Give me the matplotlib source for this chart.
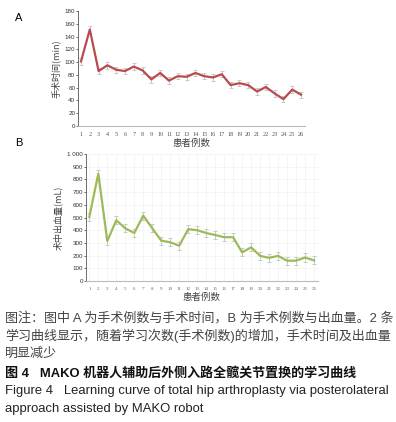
import matplotlib
matplotlib.use("Agg")
import matplotlib.pyplot as plt
import numpy as np

plt.rcParams['font.family'] = ['Liberation Sans', 'Noto Sans CJK SC', 'DejaVu Sans']

cases = list(range(1, 27))
op_time = [101, 151, 86, 95, 88, 86, 93, 87, 73, 83, 71, 78, 77, 83, 78, 76, 81,
           64, 67, 64, 54, 61, 51, 42, 57, 49]
op_time_err = [5] * 26
blood_loss = [505, 845, 315, 478, 415, 378, 515, 415, 318, 305, 278, 408, 400,
              378, 362, 345, 345, 225, 265, 198, 182, 198, 160, 160, 185, 162]
blood_err = [32] * 26
yticks_a = list(range(0, 181, 20))
yticks_b = list(range(0, 1001, 100))
yticklabels_b = [str(v) if v < 1000 else "1 000" for v in yticks_b]

W, H = 396, 422
fig = plt.figure(figsize=(W / 100, H / 100), dpi=100)

def px_axes(l, r, t, b):
    return fig.add_axes([l / W, 1 - b / H, (r - l) / W, (b - t) / H])

cjk = ['Noto Sans CJK SC', 'DejaVu Sans']

# Panel A
axA = px_axes(78, 305, 11, 126)
axA.errorbar(cases, op_time, yerr=op_time_err, color='#b84a50', lw=1.6,
             ecolor='#c8c8c8', elinewidth=0.7, capsize=1.5, capthick=0.7, zorder=3)
axA.set_xlim(0.66, 26.45)
axA.set_ylim(0, 180)
axA.set_yticks(yticks_a)
axA.set_xticks(cases)
axA.set_xticklabels([str(c) for c in cases], fontsize=4.5, family='Liberation Serif', color='#555555')
axA.tick_params(axis='y', labelsize=4.5, length=1.5, width=0.5, pad=0.5, colors='#333333')
axA.tick_params(axis='x', length=0, pad=4)
for s in ['top', 'right']:
    axA.spines[s].set_visible(False)
axA.spines['left'].set_color('#555555')
axA.spines['left'].set_linewidth(0.6)
axA.spines['bottom'].set_color('#bbbbbb')
axA.spines['bottom'].set_linewidth(0.8)
axA.set_ylabel('手术时间(min)', family=cjk, fontsize=6.5, color='#444444', labelpad=3)
axA.set_xlabel('患者例数', family=cjk, fontsize=6.8, color='#444444', labelpad=1.5)

# Panel B
axB = px_axes(86, 318, 154, 281)
axB.errorbar(cases, blood_loss, yerr=blood_err, color='#9bbb59', lw=1.6,
             ecolor='#c8c8c8', elinewidth=0.7, capsize=1.5, capthick=0.7, zorder=3)
axB.set_xlim(0.63, 26.44)
axB.set_ylim(0, 1000)
axB.set_yticks(yticks_b)
axB.set_yticklabels(yticklabels_b)
axB.set_xticks(cases)
axB.set_xticklabels([str(c) for c in cases], fontsize=3.6, family='Liberation Serif', color='#666666')
axB.tick_params(axis='y', labelsize=4.5, length=1.5, width=0.5, pad=0.5, colors='#333333')
axB.tick_params(axis='x', length=0, pad=4)
axB.grid(True, color='#f2f2f2', lw=0.5)
axB.set_axisbelow(True)
for s in ['top', 'right']:
    axB.spines[s].set_visible(False)
axB.spines['left'].set_color('#555555')
axB.spines['left'].set_linewidth(0.6)
axB.spines['bottom'].set_color('#bbbbbb')
axB.spines['bottom'].set_linewidth(0.8)
axB.set_ylabel('术中出血量(mL)', family=cjk, fontsize=6.5, color='#444444', labelpad=3)
axB.set_xlabel('患者例数', family=cjk, fontsize=6.8, color='#444444', labelpad=1.5)

# Panel letters
fig.text(15 / W, 1 - 18 / H, 'A', fontsize=8, family='Liberation Sans', va='center', ha='left')
fig.text(15 / W, 1 - 143 / H, 'B', fontsize=8, family='Liberation Sans', va='center', ha='left')

# Caption
mixed = ['Liberation Sans', 'Noto Sans CJK SC']
lines = [
    ("图注：图中 A 为手术例数与手术时间，B 为手术例数与出血量。2 条", 318, '#444444', 'normal'),
    ("学习曲线显示，随着学习次数(手术例数)的增加，手术时间及出血量", 336, '#444444', 'normal'),
    ("明显减少", 354, '#444444', 'normal'),
    ("图 4   MAKO 机器人辅助后外侧入路全髋关节置换的学习曲线", 373, '#111111', 'bold'),
    ("Figure 4   Learning curve of total hip arthroplasty via posterolateral", 391, '#222222', 'normal'),
    ("approach assisted by MAKO robot", 409, '#222222', 'normal'),
]
for txt, y, col, wt in lines:
    fig.text(5 / W, 1 - y / H, txt, fontsize=9.4, family=mixed, color=col,
             weight=wt, va='center', ha='left')

fig.savefig('out.png', dpi=100)
